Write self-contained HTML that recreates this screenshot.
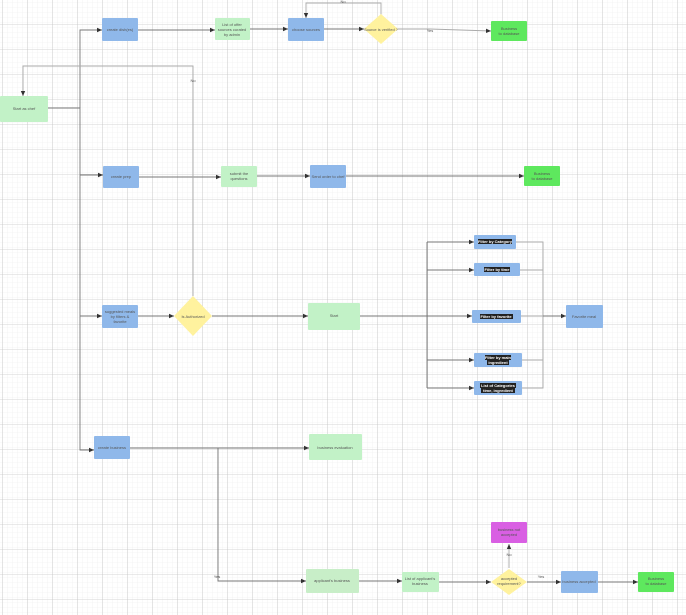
<!DOCTYPE html>
<html><head><meta charset="utf-8"><style>
html,body{margin:0;padding:0;background:#fff}
svg{display:block}
text{font-family:"Liberation Sans",sans-serif;font-size:4px;fill:#555;text-anchor:middle}
.w{fill:#fff;font-weight:bold}
</style></head><body>
<svg width="686" height="615" viewBox="0 0 686 615" xmlns="http://www.w3.org/2000/svg">
<defs>
<pattern id="mi" width="5" height="5" patternUnits="userSpaceOnUse" x="2.5" y="2.5"><path d="M5 0V5M0 5H5" stroke="#ececec" stroke-width="0.6" fill="none"/></pattern>
<pattern id="ma" width="25" height="25" patternUnits="userSpaceOnUse" x="2.5" y="-1"><path d="M0 0V25M0 0H25" stroke="#c9c9c9" stroke-width="0.8" fill="none"/></pattern>
<marker id="a" markerWidth="6" markerHeight="6" refX="5" refY="3" orient="auto" markerUnits="userSpaceOnUse"><path d="M0 0.8L5 3L0 5.2z" fill="#333"/></marker>
</defs>
<rect width="686" height="615" fill="url(#mi)"/>
<rect width="686" height="615" fill="url(#ma)"/>
<g fill="none" stroke="#777" stroke-width="0.9">
<path d="M48 108H80V450H94" marker-end="url(#a)"/>
<path d="M80 108V30H102" marker-end="url(#a)"/>
<path d="M80 175H103" marker-end="url(#a)"/>
<path d="M80 316H102" marker-end="url(#a)"/>
<path d="M138 30H215" marker-end="url(#a)"/>
<path d="M250 29H288" marker-end="url(#a)"/>
<path d="M324 29H364" marker-end="url(#a)"/>
<path d="M398 29H430L491 31" stroke="#aaa" marker-end="url(#a)"/>
<path d="M381 15V3H306V18" stroke="#aaa" marker-end="url(#a)"/>
<path d="M139 177H221" marker-end="url(#a)"/>
<path d="M257 176H310" marker-end="url(#a)"/>
<path d="M346 176H524" marker-end="url(#a)"/>
<path d="M138 316H174" marker-end="url(#a)"/>
<path d="M212 316H308" marker-end="url(#a)"/>
<path d="M193 296V66H23V96" stroke="#aaa" marker-end="url(#a)"/>
<path d="M360 316H427M427 242V388" />
<path d="M427 242H474" marker-end="url(#a)"/>
<path d="M427 270H474" marker-end="url(#a)"/>
<path d="M427 316H472" marker-end="url(#a)"/>
<path d="M427 360H474" marker-end="url(#a)"/>
<path d="M427 388H474" marker-end="url(#a)"/>
<path d="M516 242H543V388H522M520 270H543M521 316H543M522 360H543" stroke="#aaa"/>
<path d="M543 316H566" marker-end="url(#a)"/>
<path d="M130 448H309" marker-end="url(#a)"/>
<path d="M130 448H218V581H306" marker-end="url(#a)"/>
<path d="M359 581H402" marker-end="url(#a)"/>
<path d="M439 582H491" marker-end="url(#a)"/>
<path d="M527 582H561" marker-end="url(#a)"/>
<path d="M509 568V544" stroke="#aaa" marker-end="url(#a)"/>
<path d="M598 582H638" marker-end="url(#a)"/>
</g>
<g stroke="none">
<rect x="0" y="96" width="48" height="26" rx="1" fill="#c2f2c7"/>
<rect x="102" y="18" width="36" height="23" rx="1" fill="#8fb8ea"/>
<rect x="215" y="18" width="35" height="22" rx="1" fill="#c2f2c7"/>
<rect x="288" y="18" width="36" height="23" rx="1" fill="#8fb8ea"/>
<path d="M381 14L398 29L381 44L364 29z" fill="#fff29e"/>
<rect x="491" y="21" width="36" height="20" rx="1" fill="#5ee85e"/>
<rect x="103" y="166" width="36" height="22" rx="1" fill="#8fb8ea"/>
<rect x="221" y="166" width="36" height="21" rx="1" fill="#c2f2c7"/>
<rect x="310" y="165" width="36" height="23" rx="1" fill="#8fb8ea"/>
<rect x="524" y="166" width="36" height="20" rx="1" fill="#5ee85e"/>
<rect x="102" y="305" width="36" height="23" rx="1" fill="#8fb8ea"/>
<path d="M193 296L212 316L193 336L174 316z" fill="#fff29e"/>
<rect x="308" y="303" width="52" height="27" rx="1" fill="#c2f2c7"/>
<rect x="474" y="235" width="42" height="14" rx="1" fill="#8fb8ea"/>
<rect x="474" y="263" width="46" height="13" rx="1" fill="#8fb8ea"/>
<rect x="472" y="310" width="49" height="13" rx="1" fill="#8fb8ea"/>
<rect x="474" y="353" width="48" height="14" rx="1" fill="#8fb8ea"/>
<rect x="474" y="381" width="48" height="14" rx="1" fill="#8fb8ea"/>
<g fill="#222">
<rect x="478" y="239" width="34" height="5"/>
<rect x="484" y="267" width="26" height="5"/>
<rect x="480" y="314" width="33" height="5"/>
<rect x="485" y="355" width="26" height="5"/><rect x="487" y="360" width="22" height="5"/>
<rect x="480" y="383" width="36" height="5"/><rect x="481" y="388" width="34" height="5"/>
</g>
<rect x="566" y="305" width="37" height="23" rx="1" fill="#8fb8ea"/>
<rect x="94" y="436" width="36" height="23" rx="1" fill="#8fb8ea"/>
<rect x="309" y="434" width="53" height="26" rx="1" fill="#c2f2c7"/>
<rect x="306" y="569" width="53" height="24" rx="1" fill="#c8eec8"/>
<rect x="402" y="572" width="37" height="20" rx="1" fill="#c2f2c7"/>
<path d="M509 569L527 582L509 595L491 582z" fill="#fff29e"/>
<rect x="491" y="522" width="36" height="21" rx="1" fill="#d95fe3"/>
<rect x="561" y="571" width="37" height="22" rx="1" fill="#8fb8ea"/>
<rect x="638" y="572" width="36" height="20" rx="1" fill="#5ee85e"/>
</g>
<g>
<text x="24" y="110">Start as chef</text>
<text x="120" y="31">create dish(es)</text>
<text x="232" y="26">List of offer</text><text x="232" y="31">sources curated</text><text x="232" y="36">by admin</text>
<text x="306" y="31">choose sources</text>
<text x="381" y="31">Source is verified ?</text>
<text x="509" y="30">Business</text><text x="509" y="35">to database</text>
<text x="430" y="32">Yes</text><text x="343" y="3">No</text><text x="193" y="82">No</text>
<text x="121" y="178">create prep</text>
<text x="239" y="175">submit the</text><text x="239" y="180">questions</text>
<text x="328" y="178">Send order to chef</text>
<text x="542" y="175">Business</text><text x="542" y="180">to database</text>
<text x="120" y="313">suggested meals</text><text x="120" y="318">by filters &amp;</text><text x="120" y="323">favorite</text>
<text x="193" y="318">Is Authorized</text>
<text x="334" y="317">Start</text>
<text class="w" x="495" y="243">Filter by Category</text>
<text class="w" x="497" y="271">Filter by time</text>
<text class="w" x="496" y="318">Filter by favorite</text>
<text class="w" x="498" y="359">Filter by main</text><text class="w" x="498" y="364">ingredient</text>
<text class="w" x="498" y="387">List of Categories</text><text class="w" x="498" y="392">time, ingredient</text>
<text x="584" y="318">Favorite meal</text>
<text x="112" y="449">create business</text>
<text x="335" y="449">business evaluation</text>
<text x="332" y="582">applicant's business</text>
<text x="420" y="580">List of applicant's</text><text x="420" y="585">business</text>
<text x="509" y="580">accepted</text><text x="509" y="585">requirement?</text>
<text x="509" y="531">business not</text><text x="509" y="536">accepted</text>
<text x="579" y="583">business accepted</text>
<text x="656" y="580">Business</text><text x="656" y="585">to database</text>
<text x="217" y="578">Yes</text><text x="541" y="578">Yes</text><text x="509" y="556">No</text>
</g>
</svg>
</body></html>
